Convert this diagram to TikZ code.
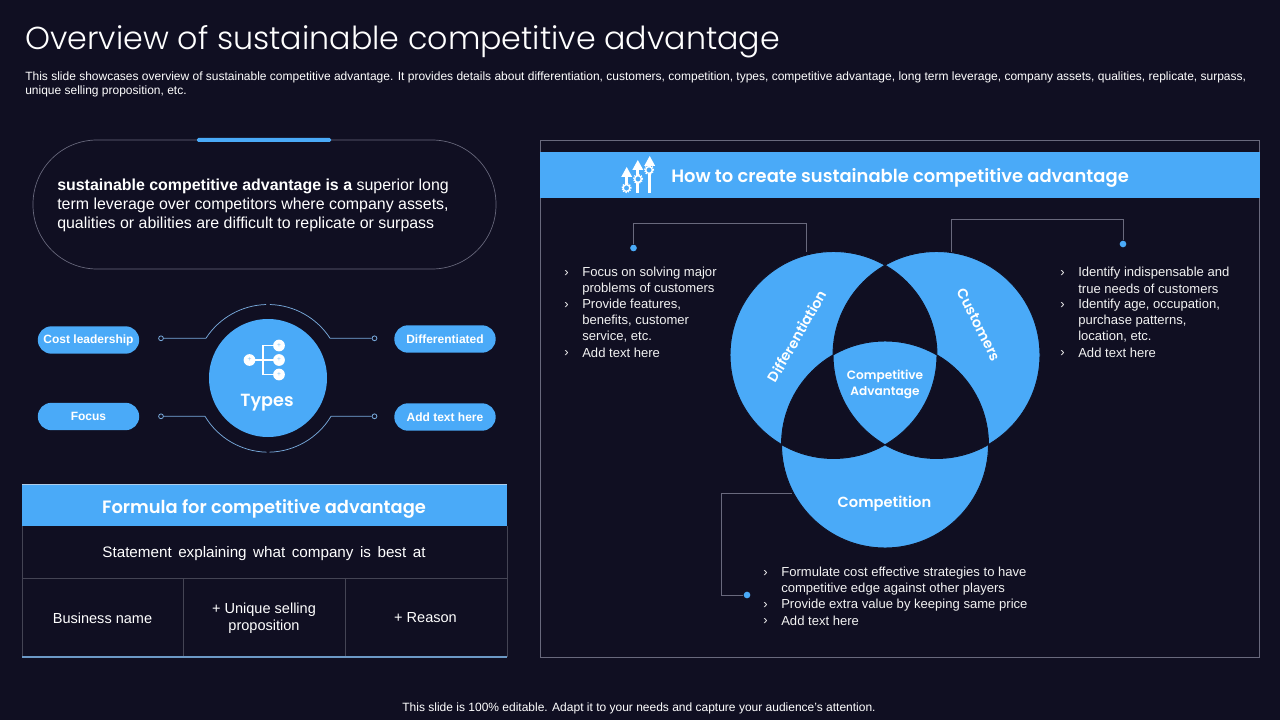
\documentclass[tikz,border=0pt]{standalone}
\usepackage{fontspec}
\setmainfont{Liberation Sans}
\newfontfamily\gothic{Poppins}[UprightFont=* Light,BoldFont=* SemiBold]
\definecolor{bgc}{RGB}{16,15,34}
\definecolor{blu}{RGB}{74,170,248}
\definecolor{gry}{RGB}{105,105,125}
\definecolor{tbr}{RGB}{68,68,84}
\definecolor{lnb}{RGB}{120,170,220}
\newcommand{\fs}[1]{\fontsize{#1}{#1}\selectfont}
\tikzset{
  x=0.75pt,y=-0.75pt,
  txt/.style={text=white,inner sep=0,font=\fs{9.8}},
  listtxt/.style={txt,anchor=west,text=white!95!black},
  pillbox/.style={fill=blu,rounded corners=13.5*0.75pt,minimum width=76pt,minimum height=20.5pt,inner sep=0,text=white,font=\fs{9}\bfseries},
  rule/.style={draw=gry,line width=0.6pt},
  tblrule/.style={draw=tbr,line width=0.7pt},
  thinb/.style={draw=lnb,line width=0.55pt},
  ringdot/.style={circle,draw=lnb,line width=0.6pt,minimum size=3.6pt,inner sep=0,fill=bgc},
  bluedot/.style={circle,fill=blu,minimum size=5pt,inner sep=0},
  gear/.style={circle,draw=white,line width=1pt,fill=blu,minimum size=5pt,inner sep=0},
  gearteeth/.style={circle,draw=white,line width=1.1pt,dash pattern=on 0.9pt off 0.9pt,minimum size=6.6pt,inner sep=0},
  wnode/.style={circle,fill=white,minimum size=8.8pt,inner sep=0,text=blu!70!white,font=\fs{5}},
}
\begin{document}
\begin{tikzpicture}
\useasboundingbox[fill=bgc] (0,0) rectangle (1280,720);
% title
\node[anchor=west,inner sep=0,text=white,font=\gothic\fs{23.8}] (title) at (25,42) {Overview of sustainable competitive advantage};
\node[txt,anchor=west,font=\fs{9}] (d1) at (25,77) {This slide showcases overview of sustainable competitive advantage. It provides details about differentiation, customers, competition, types, competitive advantage, long term leverage, company assets, qualities, replicate, surpass,};
\node[txt,anchor=west,font=\fs{9}] (d2) at (25,91) {unique selling proposition, etc.};
% definition pill
\node[draw=gry,line width=0.5pt,rounded corners=48pt,minimum width=347.25pt,minimum height=96.75pt,inner sep=0] (pill) at (264.5,204.5) {};
\fill[blu,rounded corners=1pt] (197,138) rectangle (331,142);
\node[txt,anchor=west,font=\fs{11.95}] (p1) at (57,186) {\textbf{sustainable competitive advantage is a} superior long};
\node[txt,anchor=west,font=\fs{11.95}] (p2) at (57,205) {term leverage over competitors where company assets,};
\node[txt,anchor=west,font=\fs{11.95}] (p3) at (57,224) {qualities or abilities are difficult to replicate or surpass};
% types
\node[circle,fill=blu,minimum size=88.5pt,inner sep=0] (types) at (268,378) {};
\coordinate (lt) at (206,338.2);\coordinate (rt) at (330,338.2);
\coordinate (lb) at (205,416.3);\coordinate (rb) at (331,416.3);
\node[ringdot] (r1) at (161,338.3) {};
\node[ringdot] (r2) at (374.5,338.3) {};
\node[ringdot] (r3) at (161,416.3) {};
\node[ringdot] (r4) at (374.5,416.3) {};
\draw[thinb] (r1) -- (lt) arc[start angle=213,end angle=268.5,radius=74];
\draw[thinb] (r2) -- (rt) arc[start angle=327,end angle=271.5,radius=74];
\draw[thinb] (r3) -- (lb) arc[start angle=149,end angle=91.5,radius=74];
\draw[thinb] (r4) -- (rb) arc[start angle=31,end angle=88.5,radius=74];
\node[pillbox] (cost) at (88.5,340) {Cost leadership};
\node[pillbox] (focus) at (88.5,416.5) {Focus};
\node[pillbox] (diff) at (445,339) {Differentiated};
\node[pillbox] (addt) at (445,417) {Add text here};
\draw[white,line width=1.4pt] (250,360) -- (263,360) (279,345.5) -| (263,374.5) -- (279,374.5) (263,360) -- (279,360);
\foreach \n/\a/\b in {ta/249.5/360,tb/279/345.5,tc/279/360,td/279/374.5}
  \node[wnode] (\n) at (\a,\b) {+};
\node[inner sep=0,text=white,font=\gothic\bfseries\fs{13.2}] (typesl) at (267,402.5) {Types};
% table
\fill[blu] (22,484.5) rectangle (507,526);
\draw[tblrule] (22,526) -- (22,657) (507,526) -- (507,657) (22,578) -- (507,578) (183.5,578) -- (183.5,657) (345,578) -- (345,657);
\draw[draw=lnb!90!black,line width=0.9pt] (22,657) -- (507,657);
\draw[draw=lnb!60!white,line width=0.5pt] (22,484.5) -- (507,484.5);
\node[inner sep=0,text=white,font=\gothic\bfseries\fs{13.4}] (fh) at (264,508.5) {Formula for competitive advantage};
\node[txt,font=\fs{11.4}] (st) at (264,554) {\spaceskip=4.9pt\relax Statement explaining what company is best at};
\node[txt,font=\fs{10.9}] (c1) at (102.5,618) {Business name};
\node[txt,font=\fs{10.9},align=center] (c2) at (264,618) {+ Unique selling\\[2.2pt]proposition};
\node[txt,font=\fs{10.9}] (c3) at (425.5,618) {+ Reason};
% right panel
\draw[rule] (540.5,140.5) rectangle (1259.5,657.5);
\fill[blu] (540,152) rectangle (1260,198);
\node[anchor=west,inner sep=0,text=white,font=\gothic\bfseries\fs{13.45}] (hh) at (671,177.5) {How to create sustainable competitive advantage};
% arrows icon
\foreach \xx/\yt/\yb in {626.7/167/186,637.8/160/193,649.7/156/193}{
  \fill[white] (\xx-1.6,\yt+8) rectangle (\xx+1.6,\yb);
  \fill[white] (\xx-5.5,\yt+10) -- (\xx,\yt) -- (\xx+5.5,\yt+10) -- cycle;
}
\foreach \n/\a/\b in {g1/626.5/188,g2/638/179,g3/649/170}{
  \node[gearteeth] (\n t) at (\a,\b) {};
  \node[gear] (\n) at (\a,\b) {};
}
% venn
\draw[fill=blu,draw=bgc,line width=0.7pt,even odd rule]
  (833.5,355) circle[radius=103.5] (936.5,355) circle[radius=103.5] (885,444.5) circle[radius=103.5];
\node[inner sep=0,text=white,rotate=60,font=\gothic\bfseries\fs{10.6}] (v1) at (797,336) {Differentiation};
\node[inner sep=0,text=white,rotate=-63.4,font=\gothic\bfseries\fs{10.6}] (v2) at (979,325) {Customers};
\node[inner sep=0,text=white,align=center,font=\gothic\bfseries\fs{9.1}] (v3) at (885,384) {Competitive\\[2pt]Advantage};
\node[inner sep=0,text=white,font=\gothic\bfseries\fs{11}] (v4) at (884.5,504) {Competition};
% callouts
\node[bluedot] (dl) at (633.5,248) {};
\node[bluedot] (dr) at (1123,244) {};
\node[bluedot] (db) at (747,595) {};
\coordinate (el) at (806.5,252);\coordinate (cl) at (633.5,223.5);
\coordinate (er) at (951,252);\coordinate (cr) at (1123,219.5);
\coordinate (eb) at (792,493);\coordinate (cb) at (721,595);
\draw[rule] (dl) -- (cl) -- (cl -| el) -- (el);
\draw[rule] (dr) -- (cr) -- (cr -| er) -- (er);
\draw[rule] (db) -- (cb) -- (cb |- eb) -- (eb);
% lists
\node[listtxt] (l0) at (564,273.5) {›};\node[listtxt] (l1) at (582,273) {Focus on solving major};
\node[listtxt] (l2) at (582,289) {problems of customers};
\node[listtxt] (l3) at (564,305.5) {›};\node[listtxt] (l4) at (582,305) {Provide features,};
\node[listtxt] (l5) at (582,321) {benefits, customer};
\node[listtxt] (l6) at (582,337) {service, etc.};
\node[listtxt] (l7) at (564,353.5) {›};\node[listtxt] (l8) at (582,353) {Add text here};
\node[listtxt] (m0) at (1060,273.5) {›};\node[listtxt] (m1) at (1078,273) {Identify indispensable and};
\node[listtxt] (m2) at (1078,289) {true needs of customers};
\node[listtxt] (m3) at (1060,305.5) {›};\node[listtxt] (m4) at (1078,305) {Identify age, occupation,};
\node[listtxt] (m5) at (1078,321) {purchase patterns,};
\node[listtxt] (m6) at (1078,337) {location, etc.};
\node[listtxt] (m7) at (1060,353.5) {›};\node[listtxt] (m8) at (1078,353) {Add text here};
\node[listtxt] (n0) at (763,573.5) {›};\node[listtxt] (n1) at (781,573) {Formulate cost effective strategies to have};
\node[listtxt] (n2) at (781,589) {competitive edge against other players};
\node[listtxt] (n3) at (763,605.5) {›};\node[listtxt] (n4) at (781,605) {Provide extra value by keeping same price};
\node[listtxt] (n5) at (763,621.5) {›};\node[listtxt] (n6) at (781,621) {Add text here};
% footer
\node[txt,font=\fs{9}] (foot) at (639,708) {This slide is 100\% editable. Adapt it to your needs and capture your audience's attention.};
\end{tikzpicture}
\end{document}
